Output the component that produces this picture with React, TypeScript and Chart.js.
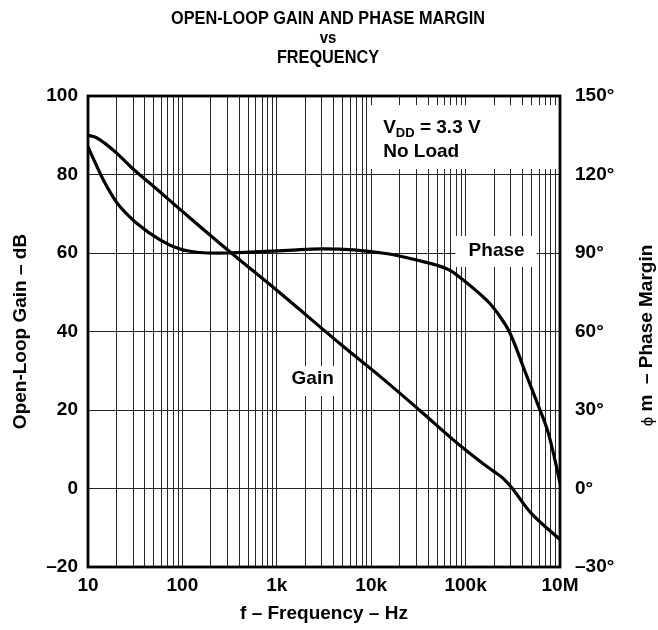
import React, { useEffect, useRef } from 'react';
import { Chart, registerables } from 'chart.js';

Chart.register(...registerables);

// ---- Data ----
const gainFreq = [10, 12, 15, 20, 30, 50, 100, 330, 1000, 5000, 12500, 33000, 70000, 100000, 150000, 200000, 250000, 320000, 500000, 1000000];
const gainDb = [90, 89.5, 88, 85.5, 81.4, 76.9, 70.6, 60, 50.5, 36.3, 28.5, 19.8, 12.9, 9.8, 6.5, 4.3, 2.6, -0.3, -6.4, -13];

const phaseFreq = [10, 12, 14.5, 18, 22, 33, 58, 94, 150, 300, 1300, 3000, 6500, 15000, 28000, 63000, 95000, 145000, 180000, 220000, 290000, 420000, 575000, 740000, 900000, 1000000];
const phaseDeg = [130.5, 124.3, 118, 112, 107.6, 101.3, 95, 91.5, 90.2, 90.0, 91.0, 91.6, 91.2, 89.7, 87.6, 84, 79.6, 74, 70.8, 66.8, 60, 45.3, 32.6, 22, 9.7, 2];

const xDecades = [10, 100, 1000, 10000, 100000];
const xMultipliers = [1, 2, 3, 4, 5, 6, 7, 8, 9];
const xTickValues = [10, 100, 1000, 10000, 100000, 1000000];
const xTickLabels = ['10', '100', '1k', '10k', '100k', '10M'];

const gainTicks = [-20, 0, 20, 40, 60, 80, 100];
const gainTickLabels = ['–20', '0', '20', '40', '60', '80', '100'];
const phaseTicks = [-30, 0, 30, 60, 90, 120, 150];
const phaseTickLabels = ['–30°', '0°', '30°', '60°', '90°', '120°', '150°'];

const titleLines = ['OPEN-LOOP GAIN AND PHASE MARGIN', 'vs', 'FREQUENCY'];
const xTitle = 'f – Frequency – Hz';
const yLeftTitle = 'Open-Loop Gain – dB';
const yRightTitleSymbol = 'ϕ';
const yRightTitleRest = ' m  – Phase Margin';
const gainLabel = 'Gain';
const phaseLabel = 'Phase';
const condLine1Main = 'V';
const condLine1Sub = 'DD';
const condLine1Rest = ' = 3.3 V';
const condLine2 = 'No Load';

const FAMILY = '"Liberation Sans", Arial, Helvetica, sans-serif';
const f = (size: number, weight = 'bold') => `${weight} ${size}px ${FAMILY}`;

const textPlugin = {
  id: 'textPlugin',
  beforeDatasetsDraw(chart: any) {
    const { ctx, scales, chartArea } = chart;
    const x = scales.x;
    const y = scales.y;
    const y2 = scales.y2;
    ctx.save();
    ctx.fillStyle = '#ffffff';

    // Conditions box
    const cx = x.getPixelForValue(13400);
    const cy1 = y.getPixelForValue(91.8);
    const cy2 = y.getPixelForValue(85.7);
    ctx.fillRect(cx - 14, cy1 - 23, chartArea.right - 2 - (cx - 14), cy2 - cy1 + 40);

    // Phase box
    const px = x.getPixelForValue(213000);
    const py = y2.getPixelForValue(90.8);
    ctx.fillRect(px - 41, py - 15, 81, 31);

    // Gain box
    const gx = x.getPixelForValue(2400);
    const gy = y.getPixelForValue(27.9);
    ctx.fillRect(gx - 27, gy - 13, 53, 30);

    ctx.fillStyle = '#000000';
    ctx.textBaseline = 'middle';
    ctx.textAlign = 'center';
    ctx.font = f(19);
    ctx.fillText(phaseLabel, px, py);
    ctx.fillText(gainLabel, gx, gy);

    ctx.textAlign = 'left';
    ctx.font = f(19);
    ctx.fillText(condLine1Main, cx, cy1);
    const wV = ctx.measureText(condLine1Main).width;
    ctx.font = f(13);
    ctx.fillText(condLine1Sub, cx + wV, cy1 + 5);
    const wS = ctx.measureText(condLine1Sub).width;
    ctx.font = f(19);
    ctx.fillText(condLine1Rest, cx + wV + wS, cy1);
    ctx.fillText(condLine2, cx, cy2);
    ctx.restore();
  },
  afterDraw(chart: any) {
    const { ctx, chartArea } = chart;
    ctx.save();
    ctx.strokeStyle = '#000';
    ctx.lineWidth = 2.8;
    ctx.strokeRect(chartArea.left, chartArea.top, chartArea.right - chartArea.left, chartArea.bottom - chartArea.top);

    // Title (narrow bold look)
    ctx.fillStyle = '#000';
    ctx.textAlign = 'center';
    ctx.textBaseline = 'middle';
    const tx = 328;
    const drawNarrow = (text: string, size: number, yy: number) => {
      ctx.save();
      ctx.translate(tx, yy);
      ctx.scale(0.88, 1);
      ctx.font = f(size);
      ctx.fillText(text, 0, 0);
      ctx.restore();
    };
    drawNarrow(titleLines[0], 18.5, 19);
    drawNarrow(titleLines[1], 17, 38);
    drawNarrow(titleLines[2], 18.5, 58);

    // Right axis title (reads bottom to top)
    ctx.translate(647, (chartArea.top + chartArea.bottom) / 2 + 4);
    ctx.rotate(-Math.PI / 2);
    ctx.font = f(19);
    const wRest = ctx.measureText(yRightTitleRest).width;
    ctx.font = f(17, 'normal');
    const wSym = ctx.measureText(yRightTitleSymbol).width;
    const start = -(wRest + wSym) / 2;
    ctx.textAlign = 'left';
    ctx.fillText(yRightTitleSymbol, start, 1);
    ctx.font = f(19);
    ctx.fillText(yRightTitleRest, start + wSym, 0);
    ctx.restore();
  },
};

export default function App() {
  const ref = useRef<HTMLCanvasElement | null>(null);

  useEffect(() => {
    if (!ref.current) return;
    const gridColor = '#262626';
    const chart = new Chart(ref.current, {
      type: 'line',
      data: {
        datasets: [
          {
            label: 'Gain',
            data: gainFreq.map((v, i) => ({ x: v, y: gainDb[i] })),
            yAxisID: 'y',
            borderColor: '#000',
            borderWidth: 3.2,
            pointRadius: 0,
            fill: false,
            tension: 0.4,
          },
          {
            label: 'Phase',
            data: phaseFreq.map((v, i) => ({ x: v, y: phaseDeg[i] })),
            yAxisID: 'y2',
            borderColor: '#000',
            borderWidth: 3.2,
            pointRadius: 0,
            fill: false,
            tension: 0.4,
          },
        ],
      },
      options: {
        animation: false,
        responsive: false,
        devicePixelRatio: 1,
        layout: { padding: { top: 96, left: 0, right: 0, bottom: 0 } },
        plugins: {
          legend: { display: false },
          tooltip: { enabled: false },
          title: { display: false },
        },
        scales: {
          x: {
            type: 'logarithmic',
            min: 10,
            max: 1000000,
            afterFit: (s: any) => { s.height = 63; },
            afterBuildTicks: (s: any) => {
              const t: any[] = [];
              xDecades.forEach((d) => xMultipliers.forEach((m) => t.push({ value: d * m })));
              t.push({ value: 1000000 });
              s.ticks = t;
            },
            grid: { color: gridColor, lineWidth: 1, drawTicks: false },
            border: { display: false },
            ticks: {
              autoSkip: false,
              maxRotation: 0,
              minRotation: 0,
              padding: 7,
              color: '#000',
              font: { family: FAMILY, size: 19, weight: 'bold' },
              callback: (v: any) => {
                const idx = xTickValues.indexOf(Number(v));
                return idx >= 0 ? xTickLabels[idx] : '';
              },
            },
            title: {
              display: true,
              text: xTitle,
              color: '#000',
              font: { family: FAMILY, size: 19, weight: 'bold' },
              padding: { top: 0, bottom: 5 },
            },
          },
          y: {
            type: 'linear',
            position: 'left',
            min: -20,
            max: 100,
            afterFit: (s: any) => { s.width = 88; },
            afterBuildTicks: (s: any) => { s.ticks = gainTicks.map((v) => ({ value: v })); },
            grid: { color: gridColor, lineWidth: 1, drawTicks: false },
            border: { display: false },
            ticks: {
              padding: 10,
              color: '#000',
              font: { family: FAMILY, size: 19, weight: 'bold' },
              callback: (v: any) => {
                const idx = gainTicks.indexOf(Number(v));
                return idx >= 0 ? gainTickLabels[idx] : '';
              },
            },
            title: {
              display: true,
              text: yLeftTitle,
              color: '#000',
              font: { family: FAMILY, size: 19, weight: 'bold' },
              padding: { top: 9, bottom: 0 },
            },
          },
          y2: {
            type: 'linear',
            position: 'right',
            min: -30,
            max: 150,
            afterFit: (s: any) => { s.width = 98; },
            afterBuildTicks: (s: any) => { s.ticks = phaseTicks.map((v) => ({ value: v })); },
            grid: { display: false, drawTicks: false },
            border: { display: false },
            ticks: {
              padding: 15,
              color: '#000',
              font: { family: FAMILY, size: 19, weight: 'bold' },
              callback: (v: any) => {
                const idx = phaseTicks.indexOf(Number(v));
                return idx >= 0 ? phaseTickLabels[idx] : '';
              },
            },
          },
        },
      },
      plugins: [textPlugin],
    } as any);
    return () => chart.destroy();
  }, []);

  return (
    <div style={{ position: 'fixed', left: 0, top: 0, width: 658, height: 630, background: '#fff' }}>
      <canvas ref={ref} width={658} height={630} style={{ display: 'block' }} />
    </div>
  );
}
